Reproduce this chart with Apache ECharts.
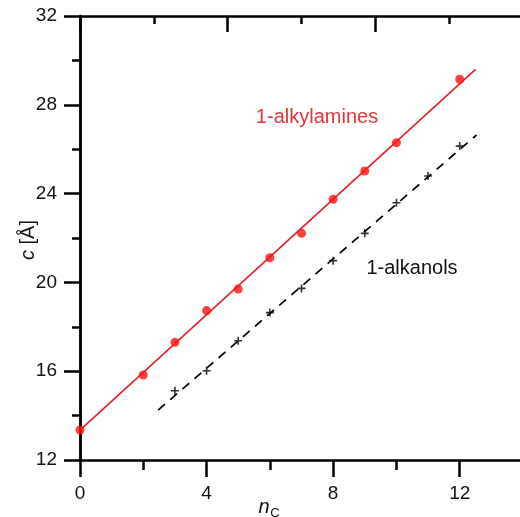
<!DOCTYPE html>
<html>
<head>
<meta charset="utf-8">
<script src="https://cdn.jsdelivr.net/npm/echarts@6/dist/echarts.min.js"></script>
<style>html,body{margin:0;padding:0;background:#fff}#c{width:520px;height:517px}</style>
</head>
<body>
<div id="c"></div>
<script>
// Data
const amineX = [0, 2, 3, 4, 5, 6, 7, 8, 9, 10, 12];
const amineY = [13.35, 15.83, 17.30, 18.73, 19.70, 21.11, 22.21, 23.74, 25.02, 26.29, 29.15];
const alkanolX = [3, 4, 5, 6, 7, 8, 9, 10, 11, 12];
const alkanolY = [15.12, 16.02, 17.37, 18.64, 19.73, 20.98, 22.21, 23.59, 24.79, 26.14];
const amineFitX = [0, 12.5];
const amineFitY = [13.35, 29.6];
const alkanolFitX = [2.47, 12.53];
const alkanolFitY = [14.25, 26.64];
const xTicks = [0, 4, 8, 12];
const yTicks = [12, 16, 20, 24, 28, 32];

const pair = (xs, ys) => xs.map((x, i) => [x, ys[i]]);
const FONT = '"Liberation Sans", Arial, sans-serif';
const LW = 2.5;
const axisLine = {show: true, lineStyle: {color: '#000', width: LW}};
const tickStyle = {color: '#000', width: LW};

const chart = echarts.init(document.getElementById('c'), null, {renderer: 'canvas'});
chart.setOption({
  animation: false,
  backgroundColor: '#fff',
  grid: {left: 80, top: 16, width: 443, height: 444, containLabel: false, outerBoundsMode: 'none'},
  xAxis: [
    {type: 'value', position: 'bottom', min: 0, max: 14, interval: 4,
     axisLine: axisLine,
     axisTick: {show: true, length: 17, lineStyle: tickStyle},
     axisLabel: {show: true, margin: 24, fontSize: 19, color: '#111', fontFamily: FONT, showMaxLabel: false,
       formatter: v => xTicks.includes(v) ? String(v) : ''},
     splitLine: {show: false}},
    {type: 'value', position: 'bottom', min: 0, max: 14, interval: 2,
     axisLine: {show: false},
     axisTick: {show: true, length: 10, lineStyle: tickStyle},
     axisLabel: {show: false}, splitLine: {show: false}},
    {type: 'value', position: 'top', min: 0, max: 6, interval: 2,
     axisLine: axisLine,
     axisTick: {show: true, inside: true, length: 16, lineStyle: tickStyle},
     minorTick: {show: true, splitNumber: 2, length: 8, lineStyle: tickStyle},
     axisLabel: {show: false}, splitLine: {show: false}}
  ],
  yAxis: [
    {type: 'value', position: 'left', min: 12, max: 32, interval: 4,
     axisLine: axisLine,
     axisTick: {show: true, length: 16, lineStyle: tickStyle},
     minorTick: {show: true, splitNumber: 2, length: 8, lineStyle: tickStyle},
     axisLabel: {show: true, margin: 23, fontSize: 19, color: '#111', fontFamily: FONT,
       formatter: v => yTicks.includes(v) ? String(v) : ''},
     splitLine: {show: false}},
    {type: 'value', position: 'right', min: 12, max: 32, interval: 4,
     axisLine: axisLine,
     axisTick: {show: true, inside: true, length: 16, lineStyle: tickStyle},
     minorTick: {show: true, splitNumber: 2, length: 8, lineStyle: tickStyle},
     axisLabel: {show: false}, splitLine: {show: false}}
  ],
  series: [
    {type: 'line', name: 'amine fit', data: pair(amineFitX, amineFitY), showSymbol: false, symbol: 'none',
     lineStyle: {color: '#e0262c', width: 1.7}, z: 2},
    {type: 'line', name: 'alkanol fit', data: pair(alkanolFitX, alkanolFitY), showSymbol: false, symbol: 'none',
     lineStyle: {color: '#000', width: 1.7, type: [9, 7]}, z: 2},
    {type: 'scatter', name: '1-alkylamines', data: pair(amineX, amineY), symbol: 'circle', symbolSize: 9,
     itemStyle: {color: '#ff1010'}, z: 3},
    {type: 'scatter', name: '1-alkanols', data: pair(alkanolX, alkanolY),
     symbol: 'path://M4,0h2v10h-2z M0,4h10v2h-10z', symbolSize: 8,
     itemStyle: {color: '#000'}, z: 3}
  ],
  graphic: [
    {type: 'text', x: 317, y: 117, style: {text: '1-alkylamines', fill: '#e3343a', fontSize: 20, fontFamily: FONT, align: 'center', verticalAlign: 'middle'}},
    {type: 'text', x: 412, y: 268, style: {text: '1-alkanols', fill: '#111', fontSize: 20, fontFamily: FONT, align: 'center', verticalAlign: 'middle'}},
    {type: 'text', x: 28, y: 240, rotation: Math.PI / 2,
     style: {text: '{i|c} [Å]', fill: '#111', fontSize: 20, fontFamily: FONT, align: 'center', verticalAlign: 'middle',
       rich: {i: {fontStyle: 'italic', fontSize: 20, fontFamily: FONT, fill: '#111'}}}},
    {type: 'text', x: 264, y: 507, style: {text: 'n', fill: '#111', fontSize: 20, fontStyle: 'italic', fontFamily: FONT, align: 'center', verticalAlign: 'middle'}},
    {type: 'text', x: 275, y: 513, style: {text: 'C', fill: '#111', fontSize: 13, fontFamily: FONT, align: 'center', verticalAlign: 'middle'}}
  ]
});
</script>
</body>
</html>
